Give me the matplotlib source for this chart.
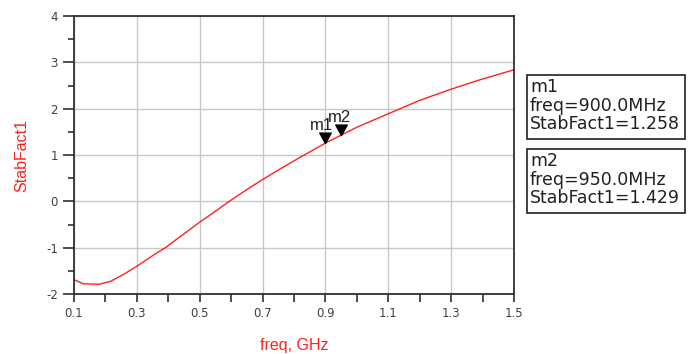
import matplotlib
matplotlib.use("Agg")
import matplotlib.pyplot as plt
from matplotlib.patches import Rectangle
from matplotlib.path import Path

plt.rcParams['font.family'] = ['Liberation Sans', 'DejaVu Sans']
plt.rcParams['axes.unicode_minus'] = False

# curve
freq = [0.10, 0.13, 0.18, 0.215, 0.257, 0.30, 0.353, 0.395, 0.448, 0.50, 0.553,
        0.596, 0.649, 0.70, 0.756, 0.817, 0.90, 0.95, 1.00, 1.10, 1.20, 1.30, 1.39, 1.50]
stab = [-1.69, -1.78, -1.79, -1.73, -1.58, -1.40, -1.16, -0.98, -0.71, -0.45, -0.20,
        0.01, 0.25, 0.47, 0.70, 0.94, 1.258, 1.429, 1.60, 1.89, 2.18, 2.42, 2.62, 2.84]

marker_names = ['m1', 'm2']
marker_freq = [0.90, 0.95]
marker_val = [1.258, 1.429]
marker_mhz = [900.0, 950.0]

W, H = 693, 354
fig = plt.figure(figsize=(W / 100, H / 100), dpi=100)
ax = fig.add_axes([74 / W, 1 - 294 / H, 440 / W, 278 / H])

red = '#ff2020'
ax.plot(freq, stab, color=red, lw=1.0)

# downward triangle with its tip on the data point
tri = Path([(0, 0), (-0.55, 1.0), (0.55, 1.0), (0, 0)],
           [Path.MOVETO, Path.LINETO, Path.LINETO, Path.CLOSEPOLY])
for name, fx, v, off in zip(marker_names, marker_freq, marker_val, [(-3, 7), (-1, 7)]):
    ax.plot([fx], [v], marker=tri, markersize=15, color='black', ls='none')
    ax.annotate(name, (fx, v), xytext=off, textcoords='offset points',
                ha='center', va='bottom', fontsize=12, color='#202020')

ax.set_xlim(0.1, 1.5)
ax.set_ylim(-2, 4)
ax.set_xticks([0.1, 0.3, 0.5, 0.7, 0.9, 1.1, 1.3, 1.5])
ax.set_xticks([0.2, 0.4, 0.6, 0.8, 1.0, 1.2, 1.4], minor=True)
ax.set_yticks(range(-2, 5))
ax.set_yticks([-1.5, -0.5, 0.5, 1.5, 2.5, 3.5], minor=True)
ax.grid(True, which='major', color='#c8c8c8', lw=1.0)
ax.tick_params(which='both', direction='out', width=1.2, color='#303030',
               labelsize=8.5, labelcolor='#404040')
ax.tick_params(axis='x', which='both', length=6)
ax.tick_params(axis='y', which='major', length=8)
ax.tick_params(axis='y', which='minor', length=4)
for lab in ax.get_xticklabels() + ax.get_yticklabels():
    lab.set_family('DejaVu Sans')
for s in ax.spines.values():
    s.set_color('#303030')
    s.set_linewidth(1.3)

ax.set_xlabel('freq, GHz', color=red, fontsize=11.5, labelpad=13)
ax.set_ylabel('StabFact1', color=red, fontsize=11.5, labelpad=12)

# marker readout boxes
boxes = [(75, 139), (149, 213)]
for (top, bot), name, mhz, v in zip(boxes, marker_names, marker_mhz, marker_val):
    fig.patches.append(Rectangle((527 / W, 1 - bot / H), 158 / W, (bot - top) / H,
                                 transform=fig.transFigure, fill=False,
                                 edgecolor='#202020', lw=1.2))
    fig.text(530 / W, 1 - (top + 3) / H,
             f'{name}\nfreq={mhz:.1f}MHz\nStabFact1={v:.3f}',
             ha='left', va='top', fontsize=12.5, linespacing=1.05,
             family='DejaVu Sans', color='#202020')

fig.savefig('out.png', dpi=100)
